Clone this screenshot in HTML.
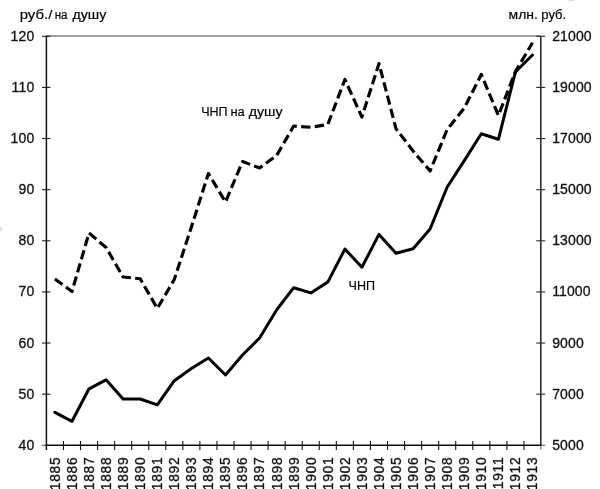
<!DOCTYPE html>
<html lang="ru"><head><meta charset="utf-8"><title>ЧНП</title>
<style>
html,body{margin:0;padding:0;background:#fff;}
body{width:600px;height:489px;overflow:hidden;}
svg{display:block;}
text{font-family:"Liberation Sans",sans-serif;fill:#111;}
.t{font-size:14px;letter-spacing:0.12px;stroke:#111;stroke-width:0.3px;}
.c{font-size:12px;fill:#000;stroke:#000;stroke-width:0.15px;}
</style></head><body>
<svg width="600" height="489" viewBox="0 0 600 489">
<rect width="600" height="489" fill="#fff"/>
<line x1="46.4" y1="36.05" x2="541.0" y2="36.05" stroke="#808080" stroke-width="1.5"/>
<line x1="540.8" y1="36.3" x2="540.8" y2="445.90000000000003" stroke="#1c1c1c" stroke-width="1.45"/>
<line x1="540.8" y1="445.3" x2="540.8" y2="449.6" stroke="#777" stroke-width="1.3"/>
<line x1="46.4" y1="35.8" x2="46.4" y2="449.90000000000003" stroke="#0a0a0a" stroke-width="1.45"/>
<line x1="45.4" y1="445.25" x2="541.8" y2="445.25" stroke="#0a0a0a" stroke-width="1.3"/>
<line x1="42.199999999999996" y1="445.3" x2="46.4" y2="445.3" stroke="#555" stroke-width="1.2"/>
<line x1="541.0" y1="445.3" x2="545.2" y2="445.3" stroke="#666" stroke-width="1.2"/>
<line x1="42.1" y1="36.30" x2="50.4" y2="36.30" stroke="#1a1a1a" stroke-width="1.1"/>
<line x1="536.2" y1="36.30" x2="545.2" y2="36.30" stroke="#2a2a2a" stroke-width="1.1"/>
<text class="t" x="34.3" y="40.80" text-anchor="end">120</text>
<text class="t" x="552.2" y="40.80">21000</text>
<line x1="42.1" y1="87.42" x2="50.4" y2="87.42" stroke="#1a1a1a" stroke-width="1.1"/>
<line x1="536.2" y1="87.42" x2="545.2" y2="87.42" stroke="#2a2a2a" stroke-width="1.1"/>
<text class="t" x="34.3" y="91.92" text-anchor="end">110</text>
<text class="t" x="552.2" y="91.92">19000</text>
<line x1="42.1" y1="138.55" x2="50.4" y2="138.55" stroke="#1a1a1a" stroke-width="1.1"/>
<line x1="536.2" y1="138.55" x2="545.2" y2="138.55" stroke="#2a2a2a" stroke-width="1.1"/>
<text class="t" x="34.3" y="143.05" text-anchor="end">100</text>
<text class="t" x="552.2" y="143.05">17000</text>
<line x1="42.1" y1="189.68" x2="50.4" y2="189.68" stroke="#1a1a1a" stroke-width="1.1"/>
<line x1="536.2" y1="189.68" x2="545.2" y2="189.68" stroke="#2a2a2a" stroke-width="1.1"/>
<text class="t" x="34.3" y="194.18" text-anchor="end">90</text>
<text class="t" x="552.2" y="194.18">15000</text>
<line x1="42.1" y1="240.80" x2="50.4" y2="240.80" stroke="#1a1a1a" stroke-width="1.1"/>
<line x1="536.2" y1="240.80" x2="545.2" y2="240.80" stroke="#2a2a2a" stroke-width="1.1"/>
<text class="t" x="34.3" y="245.30" text-anchor="end">80</text>
<text class="t" x="552.2" y="245.30">13000</text>
<line x1="42.1" y1="291.93" x2="50.4" y2="291.93" stroke="#1a1a1a" stroke-width="1.1"/>
<line x1="536.2" y1="291.93" x2="545.2" y2="291.93" stroke="#2a2a2a" stroke-width="1.1"/>
<text class="t" x="34.3" y="296.43" text-anchor="end">70</text>
<text class="t" x="552.2" y="296.43">11000</text>
<line x1="42.1" y1="343.05" x2="50.4" y2="343.05" stroke="#1a1a1a" stroke-width="1.1"/>
<line x1="536.2" y1="343.05" x2="545.2" y2="343.05" stroke="#2a2a2a" stroke-width="1.1"/>
<text class="t" x="34.3" y="347.55" text-anchor="end">60</text>
<text class="t" x="552.2" y="347.55">9000</text>
<line x1="42.1" y1="394.18" x2="50.4" y2="394.18" stroke="#1a1a1a" stroke-width="1.1"/>
<line x1="536.2" y1="394.18" x2="545.2" y2="394.18" stroke="#2a2a2a" stroke-width="1.1"/>
<text class="t" x="34.3" y="398.68" text-anchor="end">50</text>
<text class="t" x="552.2" y="398.68">7000</text>
<text class="t" x="34.3" y="449.80" text-anchor="end">40</text>
<text class="t" x="552.2" y="449.80">5000</text>
<line x1="63.46" y1="441.0" x2="63.46" y2="450.0" stroke="#161616" stroke-width="1.1"/>
<line x1="80.51" y1="441.0" x2="80.51" y2="450.0" stroke="#161616" stroke-width="1.1"/>
<line x1="97.57" y1="441.0" x2="97.57" y2="450.0" stroke="#161616" stroke-width="1.1"/>
<line x1="114.62" y1="441.0" x2="114.62" y2="450.0" stroke="#161616" stroke-width="1.1"/>
<line x1="131.68" y1="441.0" x2="131.68" y2="450.0" stroke="#161616" stroke-width="1.1"/>
<line x1="148.73" y1="441.0" x2="148.73" y2="450.0" stroke="#161616" stroke-width="1.1"/>
<line x1="165.79" y1="441.0" x2="165.79" y2="450.0" stroke="#161616" stroke-width="1.1"/>
<line x1="182.84" y1="441.0" x2="182.84" y2="450.0" stroke="#161616" stroke-width="1.1"/>
<line x1="199.90" y1="441.0" x2="199.90" y2="450.0" stroke="#161616" stroke-width="1.1"/>
<line x1="216.95" y1="441.0" x2="216.95" y2="450.0" stroke="#161616" stroke-width="1.1"/>
<line x1="234.01" y1="441.0" x2="234.01" y2="450.0" stroke="#161616" stroke-width="1.1"/>
<line x1="251.06" y1="441.0" x2="251.06" y2="450.0" stroke="#161616" stroke-width="1.1"/>
<line x1="268.12" y1="441.0" x2="268.12" y2="450.0" stroke="#161616" stroke-width="1.1"/>
<line x1="285.17" y1="441.0" x2="285.17" y2="450.0" stroke="#161616" stroke-width="1.1"/>
<line x1="302.23" y1="441.0" x2="302.23" y2="450.0" stroke="#161616" stroke-width="1.1"/>
<line x1="319.28" y1="441.0" x2="319.28" y2="450.0" stroke="#161616" stroke-width="1.1"/>
<line x1="336.34" y1="441.0" x2="336.34" y2="450.0" stroke="#161616" stroke-width="1.1"/>
<line x1="353.39" y1="441.0" x2="353.39" y2="450.0" stroke="#161616" stroke-width="1.1"/>
<line x1="370.45" y1="441.0" x2="370.45" y2="450.0" stroke="#161616" stroke-width="1.1"/>
<line x1="387.50" y1="441.0" x2="387.50" y2="450.0" stroke="#161616" stroke-width="1.1"/>
<line x1="404.56" y1="441.0" x2="404.56" y2="450.0" stroke="#161616" stroke-width="1.1"/>
<line x1="421.61" y1="441.0" x2="421.61" y2="450.0" stroke="#161616" stroke-width="1.1"/>
<line x1="438.67" y1="441.0" x2="438.67" y2="450.0" stroke="#161616" stroke-width="1.1"/>
<line x1="455.72" y1="441.0" x2="455.72" y2="450.0" stroke="#161616" stroke-width="1.1"/>
<line x1="472.78" y1="441.0" x2="472.78" y2="450.0" stroke="#161616" stroke-width="1.1"/>
<line x1="489.83" y1="441.0" x2="489.83" y2="450.0" stroke="#161616" stroke-width="1.1"/>
<line x1="506.89" y1="441.0" x2="506.89" y2="450.0" stroke="#161616" stroke-width="1.1"/>
<line x1="523.94" y1="441.0" x2="523.94" y2="450.0" stroke="#161616" stroke-width="1.1"/>
<text class="t" style="font-size:13.8px;letter-spacing:0.7px" transform="translate(59.83,456.7) rotate(-90)" text-anchor="end">1885</text>
<text class="t" style="font-size:13.8px;letter-spacing:0.7px" transform="translate(76.88,456.7) rotate(-90)" text-anchor="end">1886</text>
<text class="t" style="font-size:13.8px;letter-spacing:0.7px" transform="translate(93.94,456.7) rotate(-90)" text-anchor="end">1887</text>
<text class="t" style="font-size:13.8px;letter-spacing:0.7px" transform="translate(110.99,456.7) rotate(-90)" text-anchor="end">1888</text>
<text class="t" style="font-size:13.8px;letter-spacing:0.7px" transform="translate(128.05,456.7) rotate(-90)" text-anchor="end">1889</text>
<text class="t" style="font-size:13.8px;letter-spacing:0.7px" transform="translate(145.10,456.7) rotate(-90)" text-anchor="end">1890</text>
<text class="t" style="font-size:13.8px;letter-spacing:0.7px" transform="translate(162.16,456.7) rotate(-90)" text-anchor="end">1891</text>
<text class="t" style="font-size:13.8px;letter-spacing:0.7px" transform="translate(179.21,456.7) rotate(-90)" text-anchor="end">1892</text>
<text class="t" style="font-size:13.8px;letter-spacing:0.7px" transform="translate(196.27,456.7) rotate(-90)" text-anchor="end">1893</text>
<text class="t" style="font-size:13.8px;letter-spacing:0.7px" transform="translate(213.32,456.7) rotate(-90)" text-anchor="end">1894</text>
<text class="t" style="font-size:13.8px;letter-spacing:0.7px" transform="translate(230.38,456.7) rotate(-90)" text-anchor="end">1895</text>
<text class="t" style="font-size:13.8px;letter-spacing:0.7px" transform="translate(247.43,456.7) rotate(-90)" text-anchor="end">1896</text>
<text class="t" style="font-size:13.8px;letter-spacing:0.7px" transform="translate(264.49,456.7) rotate(-90)" text-anchor="end">1897</text>
<text class="t" style="font-size:13.8px;letter-spacing:0.7px" transform="translate(281.54,456.7) rotate(-90)" text-anchor="end">1898</text>
<text class="t" style="font-size:13.8px;letter-spacing:0.7px" transform="translate(298.60,456.7) rotate(-90)" text-anchor="end">1899</text>
<text class="t" style="font-size:13.8px;letter-spacing:0.7px" transform="translate(315.66,456.7) rotate(-90)" text-anchor="end">1900</text>
<text class="t" style="font-size:13.8px;letter-spacing:0.7px" transform="translate(332.71,456.7) rotate(-90)" text-anchor="end">1901</text>
<text class="t" style="font-size:13.8px;letter-spacing:0.7px" transform="translate(349.77,456.7) rotate(-90)" text-anchor="end">1902</text>
<text class="t" style="font-size:13.8px;letter-spacing:0.7px" transform="translate(366.82,456.7) rotate(-90)" text-anchor="end">1903</text>
<text class="t" style="font-size:13.8px;letter-spacing:0.7px" transform="translate(383.88,456.7) rotate(-90)" text-anchor="end">1904</text>
<text class="t" style="font-size:13.8px;letter-spacing:0.7px" transform="translate(400.93,456.7) rotate(-90)" text-anchor="end">1905</text>
<text class="t" style="font-size:13.8px;letter-spacing:0.7px" transform="translate(417.99,456.7) rotate(-90)" text-anchor="end">1906</text>
<text class="t" style="font-size:13.8px;letter-spacing:0.7px" transform="translate(435.04,456.7) rotate(-90)" text-anchor="end">1907</text>
<text class="t" style="font-size:13.8px;letter-spacing:0.7px" transform="translate(452.10,456.7) rotate(-90)" text-anchor="end">1908</text>
<text class="t" style="font-size:13.8px;letter-spacing:0.7px" transform="translate(469.15,456.7) rotate(-90)" text-anchor="end">1909</text>
<text class="t" style="font-size:13.8px;letter-spacing:0.7px" transform="translate(486.21,456.7) rotate(-90)" text-anchor="end">1910</text>
<text class="t" style="font-size:13.8px;letter-spacing:0.7px" transform="translate(503.26,456.7) rotate(-90)" text-anchor="end">1911</text>
<text class="t" style="font-size:13.8px;letter-spacing:0.7px" transform="translate(520.32,456.7) rotate(-90)" text-anchor="end">1912</text>
<text class="t" style="font-size:13.8px;letter-spacing:0.7px" transform="translate(537.37,456.7) rotate(-90)" text-anchor="end">1913</text>
<polyline points="54.9,412.3 72.0,421.3 89.0,388.8 106.1,379.8 123.1,399.0 140.2,399.0 157.3,404.8 174.3,380.7 191.4,368.5 208.4,358.0 225.5,375.0 242.5,355.0 259.6,338.0 276.6,310.0 293.7,287.7 310.8,292.9 327.8,282.1 344.9,249.1 361.9,267.2 379.0,234.4 396.0,253.3 413.1,248.7 430.1,229.0 447.2,187.0 464.3,160.6 481.3,133.8 498.4,139.3 515.4,72.0 532.5,55.0" fill="none" stroke="#000" stroke-width="3" stroke-linejoin="round" stroke-linecap="round"/>
<polyline points="54.9,279.0 72.0,291.5 89.0,233.0 106.1,247.5 123.1,277.0 140.2,278.7 157.3,308.5 174.3,279.5 191.4,227.0 208.4,173.5 225.5,202.0 242.5,161.5 259.6,168.0 276.6,155.5 293.7,126.0 310.8,127.3 327.8,124.5 344.9,79.5 361.9,117.0 379.0,63.5 396.0,128.7 413.1,151.0 430.1,171.0 447.2,129.5 464.3,108.0 481.3,74.5 498.4,115.5 515.4,71.5 532.5,42.8" fill="none" stroke="#000" stroke-width="3.15" stroke-linejoin="round" stroke-linecap="butt" stroke-dasharray="9.4 4.3"/>
<text class="c" y="18.5"><tspan x="19.7" textLength="32.6" lengthAdjust="spacingAndGlyphs">руб./</tspan> <tspan x="54.7" textLength="12.9" lengthAdjust="spacingAndGlyphs">на</tspan> <tspan x="72.4" textLength="33.9" lengthAdjust="spacingAndGlyphs">душу</tspan></text>
<text class="c" y="18.5"><tspan x="508.6" textLength="29.4" lengthAdjust="spacingAndGlyphs">млн.</tspan> <tspan x="541.3" textLength="24.9" lengthAdjust="spacingAndGlyphs">руб.</tspan></text>
<text class="c" y="115.7"><tspan font-size="13.2" x="201.2" textLength="26.4" lengthAdjust="spacingAndGlyphs">ЧНП</tspan> <tspan x="230.4" textLength="14.3" lengthAdjust="spacingAndGlyphs">на</tspan> <tspan x="248.7" textLength="33.9" lengthAdjust="spacingAndGlyphs">душу</tspan></text>
<text class="c" y="289.7"><tspan font-size="13.2" x="348.6" textLength="26.4" lengthAdjust="spacingAndGlyphs">ЧНП</tspan></text>
<ellipse cx="571.5" cy="0" rx="3.2" ry="1.2" fill="#dcdcdc"/>
<ellipse cx="0" cy="229" rx="2" ry="2.6" fill="#dedede"/>
</svg></body></html>
